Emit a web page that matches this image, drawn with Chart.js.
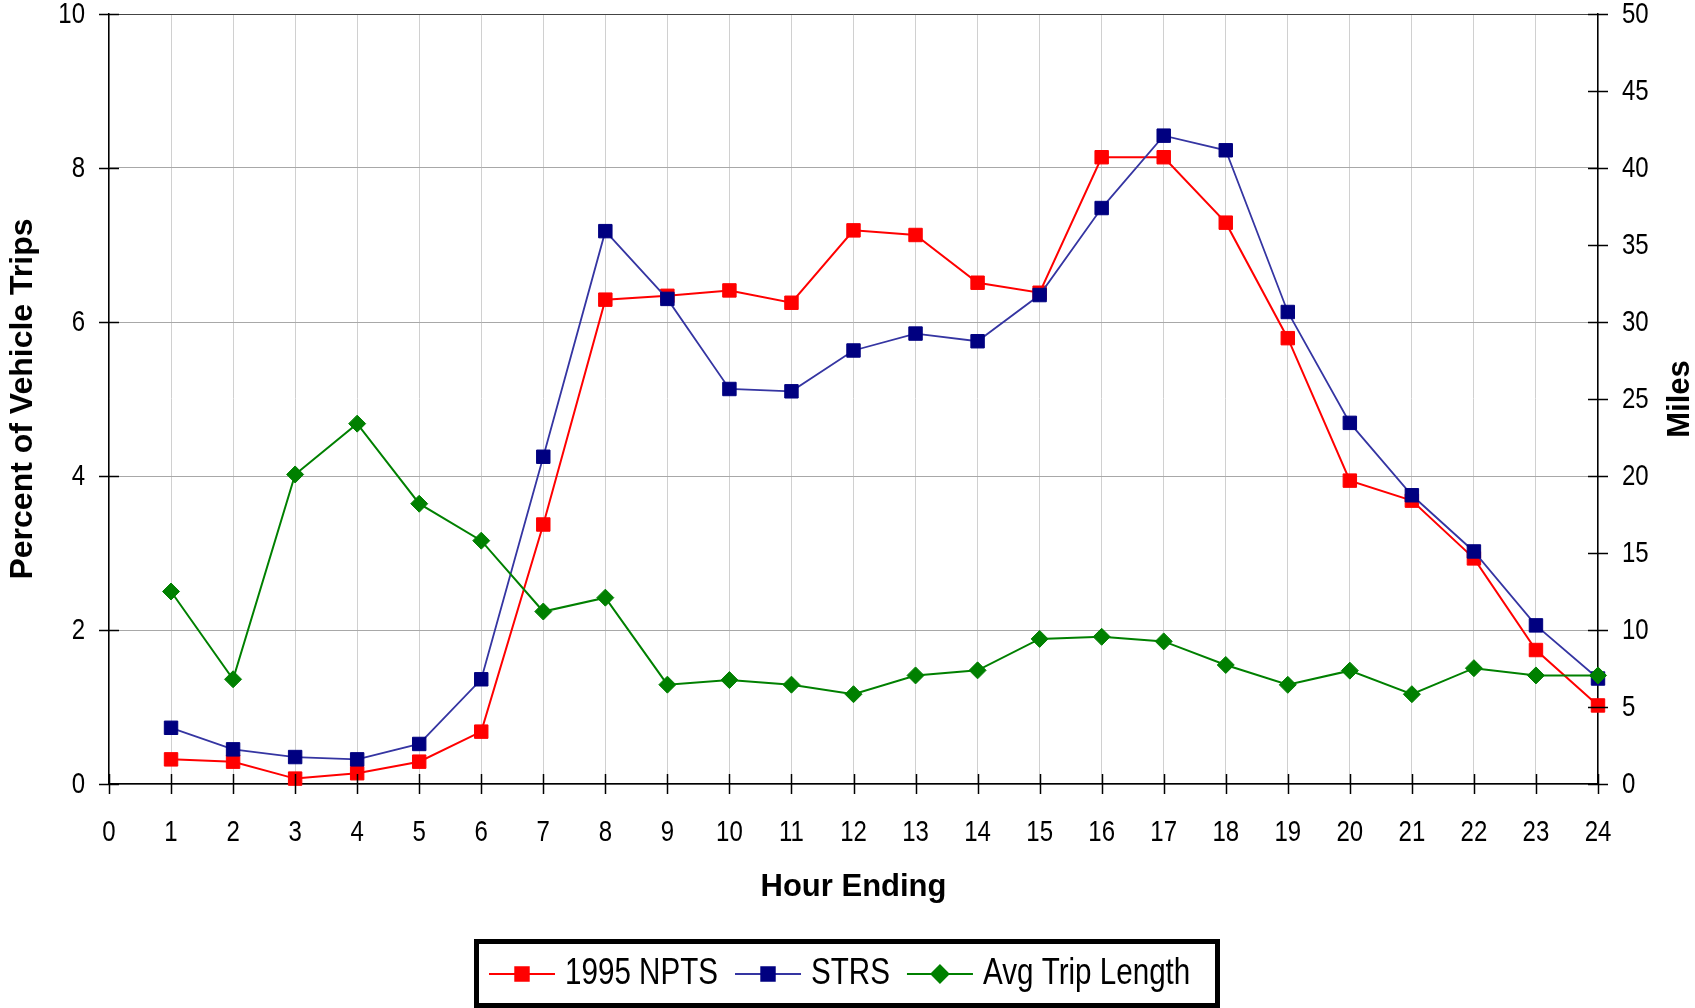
<!DOCTYPE html>
<html>
<head>
<meta charset="utf-8">
<script src="https://cdn.jsdelivr.net/npm/chart.js@4/dist/chart.umd.min.js"></script>
<style>
  html, body { margin: 0; padding: 0; background: #fff; }
  #wrap { width: 1695px; height: 1008px; }
</style>
</head>
<body>
<div id="wrap"><canvas id="c" width="1695" height="1008"></canvas></div>
<script>
// Hour of day (hour ending) and the three series plotted against it
const hours = [1, 2, 3, 4, 5, 6, 7, 8, 9, 10, 11, 12, 13, 14, 15, 16, 17, 18, 19, 20, 21, 22, 23, 24];
const npts1995 = [0.32, 0.29, 0.07, 0.14, 0.29, 0.68, 3.37, 6.29, 6.34, 6.41, 6.25, 7.19, 7.13, 6.51, 6.38, 8.14, 8.14, 7.29, 5.79, 3.94, 3.68, 2.93, 1.74, 1.02];
const strs = [0.73, 0.45, 0.35, 0.32, 0.52, 1.36, 4.25, 7.18, 6.30, 5.13, 5.10, 5.63, 5.85, 5.75, 6.35, 7.48, 8.42, 8.23, 6.13, 4.69, 3.75, 3.02, 2.06, 1.37];
const avgTripLength = [12.5, 6.8, 20.1, 23.4, 18.2, 15.8, 11.2, 12.1, 6.45, 6.75, 6.45, 5.83, 7.05, 7.38, 9.42, 9.56, 9.26, 7.73, 6.44, 7.36, 5.83, 7.52, 7.05, 7.05];
const seriesNames = ['1995 NPTS', 'STRS', 'Avg Trip Length'];
const xTitle = 'Hour Ending';
const leftTitle = 'Percent of Vehicle Trips';
const rightTitle = 'Miles';

const sansFont = "'Liberation Sans', Arial, sans-serif";
const NARROW = 0.8; // horizontal squeeze that gives an Arial-Narrow look

const toPoints = vals => hours.map((h, i) => ({ x: h, y: vals[i] }));

function narrowText(ctx, text, px, py, align) {
  ctx.save();
  ctx.translate(px, py);
  ctx.scale(NARROW, 1);
  ctx.textAlign = align;
  ctx.fillText(text, 0, 0);
  ctx.restore();
}

// Tick marks that cross the axes, narrow tick labels, the framed legend and the right axis title
const axisDecor = {
  id: 'axisDecor',
  afterDraw(chart) {
    const ctx = chart.ctx;
    const { x, y, y1 } = chart.scales;
    const area = chart.chartArea;
    ctx.save();

    // tick marks, 10px to each side of the axis line
    ctx.strokeStyle = '#000';
    ctx.lineWidth = 1.5;
    ctx.beginPath();
    x.ticks.forEach(t => {
      const px = Math.round(x.getPixelForValue(t.value)) + 0.5;
      ctx.moveTo(px, area.bottom - 10);
      ctx.lineTo(px, area.bottom + 10);
    });
    y.ticks.forEach(t => {
      const py = Math.round(y.getPixelForValue(t.value)) + 0.5;
      ctx.moveTo(area.left - 10, py);
      ctx.lineTo(area.left + 10, py);
    });
    y1.ticks.forEach(t => {
      const py = Math.round(y1.getPixelForValue(t.value)) + 0.5;
      ctx.moveTo(area.right - 10, py);
      ctx.lineTo(area.right + 10, py);
    });
    ctx.stroke();

    // tick labels
    ctx.fillStyle = '#000';
    ctx.textBaseline = 'middle';
    ctx.font = '30px ' + sansFont;
    x.ticks.forEach(t => narrowText(ctx, String(t.label), x.getPixelForValue(t.value), 833, 'center'));
    y.ticks.forEach(t => narrowText(ctx, String(t.label), 85, y.getPixelForValue(t.value) + 1, 'right'));
    y1.ticks.forEach(t => narrowText(ctx, String(t.label), 1622, y1.getPixelForValue(t.value) + 1, 'left'));

    // legend frame and entries
    ctx.lineWidth = 5;
    ctx.strokeStyle = '#000';
    ctx.strokeRect(476.5, 941.5, 741, 64);
    ctx.font = '37px ' + sansFont;
    const ly = 974;
    let lx = 489;
    chart.data.datasets.forEach(ds => {
      ctx.strokeStyle = ds.borderColor;
      ctx.lineWidth = 2;
      ctx.beginPath();
      ctx.moveTo(lx, ly);
      ctx.lineTo(lx + 66, ly);
      ctx.stroke();
      ctx.fillStyle = ds.pointBackgroundColor;
      ctx.strokeStyle = ds.pointBorderColor;
      Chart.helpers.drawPoint(ctx, {
        pointStyle: ds.pointStyle,
        radius: ds.pointRadius,
        rotation: 0,
        borderWidth: ds.pointBorderWidth
      }, lx + 33, ly);
      ctx.fillStyle = '#000';
      narrowText(ctx, ds.label, lx + 76, ly, 'left');
      lx += 76 + ctx.measureText(ds.label).width * NARROW + 17;
    });

    // right axis title, reading upward like the left one
    ctx.font = 'bold 31px ' + sansFont;
    ctx.textAlign = 'center';
    ctx.translate(1680, 399);
    ctx.rotate(-Math.PI / 2);
    ctx.fillText(rightTitle, 0, 0);
    ctx.restore();
  }
};

function fixVertical(width) {
  return scale => {
    scale.width = width;
    scale.paddingTop = 0;
    scale.paddingBottom = 0;
  };
}

new Chart(document.getElementById('c'), {
  type: 'line',
  data: {
    datasets: [
      {
        label: seriesNames[0],
        data: toPoints(npts1995),
        yAxisID: 'y',
        borderColor: '#FF0000',
        borderWidth: 2,
        pointStyle: 'rect',
        pointRadius: 9.5,
        pointBackgroundColor: '#FF0000',
        pointBorderColor: '#FF0000',
        pointBorderWidth: 1,
        tension: 0,
        clip: false,
        order: 3
      },
      {
        label: seriesNames[1],
        data: toPoints(strs),
        yAxisID: 'y',
        borderColor: '#3535A2',
        borderWidth: 1.8,
        pointStyle: 'rect',
        pointRadius: 9.5,
        pointBackgroundColor: '#000080',
        pointBorderColor: '#000080',
        pointBorderWidth: 1,
        tension: 0,
        clip: false,
        order: 2
      },
      {
        label: seriesNames[2],
        data: toPoints(avgTripLength),
        yAxisID: 'y1',
        borderColor: '#008000',
        borderWidth: 2,
        pointStyle: 'rectRot',
        pointRadius: 8.5,
        pointBackgroundColor: '#008000',
        pointBorderColor: '#008000',
        pointBorderWidth: 1,
        tension: 0,
        clip: false,
        order: 1
      }
    ]
  },
  options: {
    responsive: false,
    animation: false,
    devicePixelRatio: 1,
    layout: { padding: { top: 14, right: 0, bottom: 78, left: 0 } },
    plugins: { legend: { display: false }, tooltip: { enabled: false } },
    scales: {
      x: {
        type: 'linear',
        min: 0,
        max: 24,
        ticks: { stepSize: 1, autoSkip: false, maxRotation: 0, display: false },
        grid: { color: '#d0d0d0', lineWidth: 1, drawTicks: false },
        border: { color: '#000', width: 1.5 },
        title: {
          display: true,
          text: xTitle,
          color: '#000',
          font: { family: sansFont, size: 31, weight: 'bold' },
          padding: { top: 0, bottom: 24 }
        },
        afterFit(scale) {
          scale.height = 146;
          scale.paddingLeft = 0;
          scale.paddingRight = 0;
        }
      },
      y: {
        position: 'left',
        min: 0,
        max: 10,
        ticks: { stepSize: 2, display: false },
        grid: {
          color: ctx => (ctx.tick && ctx.tick.value === 10 ? '#444' : '#a8a8a8'),
          lineWidth: 1,
          drawTicks: false
        },
        border: { color: '#000', width: 1.5 },
        title: {
          display: true,
          text: leftTitle,
          color: '#000',
          font: { family: sansFont, size: 32, weight: 'bold' },
          padding: { top: 4, bottom: 0 }
        },
        afterFit: fixVertical(109)
      },
      y1: {
        position: 'right',
        min: 0,
        max: 50,
        ticks: { stepSize: 5, display: false },
        grid: { drawOnChartArea: false, drawTicks: false },
        border: { color: '#000', width: 1.5 },
        afterFit: fixVertical(97)
      }
    }
  },
  plugins: [axisDecor]
});
</script>
</body>
</html>
